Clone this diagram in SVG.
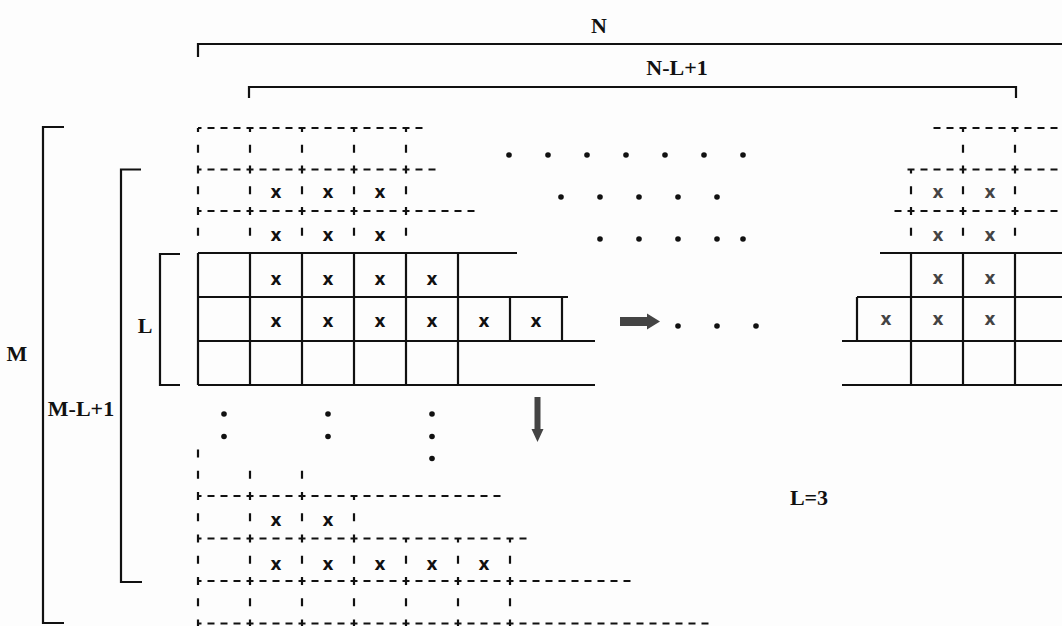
<svg xmlns="http://www.w3.org/2000/svg" width="1062" height="626" viewBox="0 0 1062 626">
<style>
.s{stroke:#111;stroke-width:2.2;fill:none}
.dh{stroke:#111;stroke-width:2.2;fill:none;stroke-dasharray:7 6}
.dv{stroke:#111;stroke-width:2.2;fill:none;stroke-dasharray:8 12.75}
.dvb{stroke:#111;stroke-width:2.2;fill:none;stroke-dasharray:8 13.25}
.lbl{font-family:"Liberation Serif",serif;font-weight:bold;font-size:22px;fill:#111;text-anchor:middle}
.x{font-family:"DejaVu Sans",sans-serif;font-weight:bold;font-size:17px;fill:#111;text-anchor:middle}
.xr{font-family:"DejaVu Sans",sans-serif;font-weight:bold;font-size:17px;fill:#444;text-anchor:middle}
.dot{fill:#111}
.arr{fill:#444}
</style>
<rect width="1062" height="626" fill="#fdfdfd"/>

<g id="brackets">
  <path class="s" d="M198,57 V44 H1062"/>
  <path class="s" d="M249,98 V87 H1016 V98"/>
  <path class="s" d="M64,127 H43 V623 H64"/>
  <path class="s" d="M141,169.5 H121 V582 H142"/>
  <path class="s" d="M180,254 H160 V385 H180"/>
</g>

<g id="labels">
  <text class="lbl" x="599" y="33">N</text>
  <text class="lbl" x="677" y="75">N-L+1</text>
  <text class="lbl" x="17" y="361">M</text>
  <text class="lbl" x="81" y="416">M-L+1</text>
  <text class="lbl" x="145" y="333">L</text>
  <text class="lbl" x="809" y="505">L=3</text>
</g>

<g id="grid-top-dashed">
  <line class="dh" x1="198" y1="128" x2="422.5" y2="128" stroke-dashoffset="3.5"/>
  <line class="dh" x1="198" y1="169.5" x2="435.5" y2="169.5" stroke-dashoffset="3.5"/>
  <line class="dh" x1="198" y1="211" x2="474.5" y2="211" stroke-dashoffset="3.5"/>
  <line class="dv" x1="198" y1="128" x2="198" y2="236" stroke-dashoffset="4"/>
  <line class="dv" x1="250" y1="128" x2="250" y2="236" stroke-dashoffset="4"/>
  <line class="dv" x1="302" y1="128" x2="302" y2="236" stroke-dashoffset="4"/>
  <line class="dv" x1="354" y1="128" x2="354" y2="236" stroke-dashoffset="4"/>
  <line class="dv" x1="406" y1="128" x2="406" y2="236" stroke-dashoffset="4"/>
  <text class="x" x="276" y="198">x</text>
  <text class="x" x="328" y="198">x</text>
  <text class="x" x="380" y="198">x</text>
  <text class="x" x="276" y="241">x</text>
  <text class="x" x="328" y="241">x</text>
  <text class="x" x="380" y="241">x</text>
</g>

<g id="grid-main-solid">
  <line class="s" x1="198" y1="253" x2="517" y2="253"/>
  <line class="s" x1="198" y1="297" x2="568" y2="297"/>
  <line class="s" x1="198" y1="341" x2="595" y2="341"/>
  <line class="s" x1="198" y1="385" x2="595" y2="385"/>
  <line class="s" x1="198" y1="253" x2="198" y2="385"/>
  <line class="s" x1="250" y1="253" x2="250" y2="385"/>
  <line class="s" x1="302" y1="253" x2="302" y2="385"/>
  <line class="s" x1="354" y1="253" x2="354" y2="385"/>
  <line class="s" x1="406" y1="253" x2="406" y2="385"/>
  <line class="s" x1="458" y1="253" x2="458" y2="385"/>
  <line class="s" x1="510" y1="297" x2="510" y2="341"/>
  <line class="s" x1="562" y1="297" x2="562" y2="341"/>
  <text class="x" x="276" y="285">x</text>
  <text class="x" x="328" y="285">x</text>
  <text class="x" x="380" y="285">x</text>
  <text class="x" x="432" y="285">x</text>
  <text class="x" x="276" y="327">x</text>
  <text class="x" x="328" y="327">x</text>
  <text class="x" x="380" y="327">x</text>
  <text class="x" x="432" y="327">x</text>
  <text class="x" x="484" y="327">x</text>
  <text class="x" x="536" y="327">x</text>
</g>

<g id="grid-right">
  <line class="dh" x1="933.5" y1="128" x2="1062" y2="128"/>
  <line class="dh" x1="907.5" y1="169.5" x2="1062" y2="169.5"/>
  <line class="dh" x1="894.5" y1="211" x2="1062" y2="211"/>
  <line class="dv" x1="963" y1="128" x2="963" y2="236" stroke-dashoffset="4"/>
  <line class="dv" x1="1015" y1="128" x2="1015" y2="236" stroke-dashoffset="4"/>
  <line class="dv" x1="911" y1="169.5" x2="911" y2="236" stroke-dashoffset="4"/>
  <line class="s" x1="880" y1="253" x2="1062" y2="253"/>
  <line class="s" x1="857" y1="297" x2="1062" y2="297"/>
  <line class="s" x1="842" y1="341" x2="1062" y2="341"/>
  <line class="s" x1="842" y1="385" x2="1062" y2="385"/>
  <line class="s" x1="911" y1="253" x2="911" y2="385"/>
  <line class="s" x1="963" y1="253" x2="963" y2="385"/>
  <line class="s" x1="1015" y1="253" x2="1015" y2="385"/>
  <line class="s" x1="857" y1="297" x2="857" y2="341"/>
  <text class="xr" x="938" y="198">x</text>
  <text class="xr" x="990" y="198">x</text>
  <text class="xr" x="938" y="241">x</text>
  <text class="xr" x="990" y="241">x</text>
  <text class="xr" x="938" y="284">x</text>
  <text class="xr" x="990" y="284">x</text>
  <text class="xr" x="886" y="325">x</text>
  <text class="xr" x="938" y="325">x</text>
  <text class="xr" x="990" y="325">x</text>
</g>

<g id="grid-bottom">
  <line class="dh" x1="198" y1="496" x2="500.5" y2="496" stroke-dashoffset="3.5"/>
  <line class="dh" x1="198" y1="538.5" x2="526.5" y2="538.5" stroke-dashoffset="3.5"/>
  <line class="dh" x1="198" y1="581" x2="630.5" y2="581" stroke-dashoffset="3.5"/>
  <line class="dh" x1="198" y1="623.5" x2="708.5" y2="623.5" stroke-dashoffset="3.5"/>
  <line class="dvb" x1="198" y1="449.5" x2="198" y2="626"/>
  <line class="dvb" x1="250" y1="470.75" x2="250" y2="626"/>
  <line class="dvb" x1="302" y1="470.75" x2="302" y2="626"/>
  <line class="dvb" x1="354" y1="496" x2="354" y2="626" stroke-dashoffset="4"/>
  <line class="dvb" x1="406" y1="538.5" x2="406" y2="626" stroke-dashoffset="4"/>
  <line class="dvb" x1="458" y1="538.5" x2="458" y2="626" stroke-dashoffset="4"/>
  <line class="dvb" x1="510" y1="538.5" x2="510" y2="626" stroke-dashoffset="4"/>
  <text class="x" x="276" y="526">x</text>
  <text class="x" x="328" y="526">x</text>
  <text class="x" x="276" y="570">x</text>
  <text class="x" x="328" y="570">x</text>
  <text class="x" x="380" y="570">x</text>
  <text class="x" x="432" y="570">x</text>
  <text class="x" x="484" y="570">x</text>
</g>

<g id="dots">
  <circle class="dot" cx="509" cy="155" r="2.8"/>
  <circle class="dot" cx="548" cy="155" r="2.8"/>
  <circle class="dot" cx="587" cy="155" r="2.8"/>
  <circle class="dot" cx="626" cy="155" r="2.8"/>
  <circle class="dot" cx="665" cy="155" r="2.8"/>
  <circle class="dot" cx="704" cy="155" r="2.8"/>
  <circle class="dot" cx="743" cy="155" r="2.8"/>
  <circle class="dot" cx="561" cy="197" r="2.8"/>
  <circle class="dot" cx="600" cy="197" r="2.8"/>
  <circle class="dot" cx="639" cy="197" r="2.8"/>
  <circle class="dot" cx="678" cy="197" r="2.8"/>
  <circle class="dot" cx="717" cy="197" r="2.8"/>
  <circle class="dot" cx="600" cy="239" r="2.8"/>
  <circle class="dot" cx="639" cy="239" r="2.8"/>
  <circle class="dot" cx="678" cy="239" r="2.8"/>
  <circle class="dot" cx="717" cy="239" r="2.8"/>
  <circle class="dot" cx="743" cy="239" r="2.8"/>
  <circle class="dot" cx="678" cy="326" r="2.8"/>
  <circle class="dot" cx="717" cy="326" r="2.8"/>
  <circle class="dot" cx="756" cy="326" r="2.8"/>
  <circle class="dot" cx="224" cy="414" r="2.8"/>
  <circle class="dot" cx="224" cy="436.5" r="2.8"/>
  <circle class="dot" cx="328" cy="414" r="2.8"/>
  <circle class="dot" cx="328" cy="436.5" r="2.8"/>
  <circle class="dot" cx="432" cy="414" r="2.8"/>
  <circle class="dot" cx="432" cy="436.5" r="2.8"/>
  <circle class="dot" cx="432" cy="458.5" r="2.8"/>
</g>

<g id="connectors">
  <polygon class="arr" points="620,317 647,317 647,313.5 660,321.5 647,329.5 647,326 620,326"/>
  <polygon class="arr" points="534.5,397 540.5,397 540.5,429 543.5,429 537.5,442 531.5,429 534.5,429"/>
</g>
</svg>
